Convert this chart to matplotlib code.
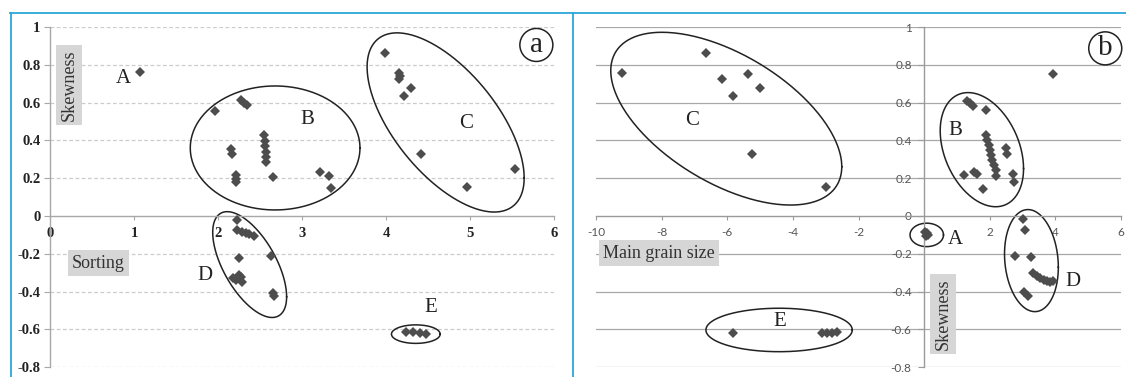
import numpy as np
import matplotlib
matplotlib.use("Agg")
import matplotlib.pyplot as plt
from matplotlib.lines import Line2D

# ---------------- data ----------------
# Panel (a): Sorting vs Skewness
a_A_x = [1.07]
a_A_y = [0.76]
a_B_x = [1.97, 2.27, 2.31, 2.35, 2.16, 2.17, 2.21, 2.21, 2.22,
         2.55, 2.555, 2.56, 2.57, 2.575, 2.57, 2.65, 3.22, 3.32, 3.35]
a_B_y = [0.557, 0.614, 0.600, 0.587, 0.354, 0.328, 0.217, 0.198, 0.178,
         0.429, 0.397, 0.370, 0.340, 0.314, 0.287, 0.208, 0.234, 0.213, 0.146]
a_C_x = [3.99, 4.16, 4.17, 4.16, 4.30, 4.22, 4.42, 5.53, 4.96]
a_C_y = [0.864, 0.758, 0.740, 0.723, 0.676, 0.635, 0.328, 0.247, 0.152]
a_D_x = [2.23, 2.23, 2.28, 2.33, 2.37, 2.43, 2.25, 2.63,
         2.18, 2.22, 2.27, 2.28, 2.25, 2.66, 2.67]
a_D_y = [-0.021, -0.074, -0.083, -0.088, -0.094, -0.106, -0.220, -0.210,
         -0.330, -0.339, -0.324, -0.348, -0.312, -0.409, -0.423]
a_E_x = [4.24, 4.32, 4.40, 4.48]
a_E_y = [-0.612, -0.615, -0.621, -0.626]

# Panel (b): Main grain size vs Skewness
b_A_x = [0.03, 0.08, 0.11, 0.05]
b_A_y = [-0.083, -0.092, -0.100, -0.108]
b_B_x = [1.32, 1.40, 1.48, 1.88, 1.88, 1.93, 1.98, 2.01, 2.04, 2.08, 2.13,
         2.19, 2.19, 2.49, 2.54, 2.70, 2.74, 1.22, 1.52, 1.61, 1.79]
b_B_y = [0.610, 0.596, 0.582, 0.561, 0.429, 0.402, 0.376, 0.349, 0.323,
         0.296, 0.270, 0.243, 0.213, 0.358, 0.328, 0.222, 0.181, 0.217,
         0.234, 0.222, 0.143]
b_C_x = [-9.22, -6.65, -6.17, -5.38, -5.81, -5.00, -5.25, -2.99]
b_C_y = [0.758, 0.864, 0.727, 0.753, 0.637, 0.676, 0.328, 0.152]
b_D_x = [3.01, 3.06, 2.77, 3.25, 3.33, 3.43, 3.54, 3.64, 3.74, 3.84, 3.94,
         3.03, 3.18]
b_D_y = [-0.018, -0.074, -0.212, -0.215, -0.300, -0.317, -0.330, -0.339,
         -0.344, -0.347, -0.344, -0.404, -0.423]
b_E_x = [-5.81, -3.12, -2.97, -2.81, -2.66]
b_E_y = [-0.617, -0.617, -0.619, -0.617, -0.614]
b_other_x = [3.94]
b_other_y = [0.751]

y_ticks = [1, 0.8, 0.6, 0.4, 0.2, 0, -0.2, -0.4, -0.6, -0.8]
y_tick_labels = ["1", "0.8", "0.6", "0.4", "0.2", "0", "-0.2", "-0.4", "-0.6", "-0.8"]
a_x_ticks = [0, 1, 2, 3, 4, 5, 6]
b_x_ticks = [-10, -8, -6, -4, -2, 2, 4, 6]

# ---------------- styling ----------------
W, H = 1126, 377
fig = plt.figure(figsize=(W / 100, H / 100), dpi=100)
fig.patch.set_facecolor("white")

SERIF = "Liberation Serif"
MK = dict(marker="D", linestyle="none", color="#4d4d4d", markersize=5.2,
          markeredgewidth=0)


def px_axes(x0, x1, y_top, y_bot):
    return fig.add_axes([x0 / W, (H - y_bot) / H, (x1 - x0) / W, (y_bot - y_top) / H])


def ellipse(ax, cx, cy, hw, dy, hh, lw=1.1):
    t = np.linspace(0, 2 * np.pi, 300)
    x = cx + hw * np.cos(t)
    y = cy + dy * np.cos(t) + np.sqrt(hh ** 2 - dy ** 2) * np.sin(t)
    ax.plot(x, y, color="#222222", lw=lw, zorder=2)


def common(ax, xlim):
    ax.set_xlim(*xlim)
    ax.set_ylim(-0.8, 1.0)
    ax.set_facecolor("none")
    for s in ("top", "right"):
        ax.spines[s].set_visible(False)
    ax.spines["left"].set_position(("data", 0))
    ax.spines["bottom"].set_position(("data", 0))
    ax.set_yticks(y_ticks)
    ax.set_yticklabels(y_tick_labels)


# ---------------- panel (a) ----------------
axa = px_axes(50, 554, 27, 367.2)
common(axa, (0, 6))
for s in ("left", "bottom"):
    axa.spines[s].set_color("#a8a8a8")
    axa.spines[s].set_linewidth(1.0)
axa.set_xticks(a_x_ticks)
axa.set_xticklabels([str(v) for v in a_x_ticks])
axa.tick_params(axis="y", length=4, width=0.8, color="#a8a8a8", pad=3,
                labelsize=10.5, labelcolor="#222222")
axa.tick_params(axis="x", length=3, width=0.8, color="#a8a8a8", pad=5,
                labelsize=10.5, labelcolor="#222222")
for lab in axa.get_xticklabels() + axa.get_yticklabels():
    lab.set_fontfamily(SERIF)
    lab.set_fontweight("bold")
for yv in y_ticks:
    if yv != 0:
        axa.axhline(yv, color="#cccccc", lw=0.9, ls=(0, (3, 2)), zorder=0)

for xs, ys in [(a_A_x, a_A_y), (a_B_x, a_B_y), (a_C_x, a_C_y),
               (a_D_x, a_D_y), (a_E_x, a_E_y)]:
    axa.plot(xs, ys, zorder=3, **MK)

ellipse(axa, 2.68, 0.36, 1.01, 0.0, 0.328)
ellipse(axa, 4.71, 0.495, 0.935, -0.293, 0.474)
ellipse(axa, 2.377, -0.257, 0.44, -0.17, 0.28)
ellipse(axa, 4.355, -0.625, 0.29, 0.0, 0.049)

LBL = dict(fontfamily=SERIF, fontsize=15, color="#222222", ha="center", va="center")
axa.text(0.87, 0.725, "A", **LBL)
axa.text(3.06, 0.51, "B", **LBL)
axa.text(4.95, 0.49, "C", **LBL)
axa.text(1.84, -0.317, "D", **LBL)
axa.text(4.53, -0.483, "E", **LBL)

BOX = dict(boxstyle="square,pad=0.25", facecolor="#d6d6d6", edgecolor="none")
axa.text(0.226, 0.693, "Skewness", rotation=90, fontfamily=SERIF, fontsize=13,
         color="#333333", ha="center", va="center", bbox=BOX)
axa.text(0.577, -0.249, "Sorting", fontfamily=SERIF, fontsize=13,
         color="#333333", ha="center", va="center", bbox=BOX)
axa.text(5.79, 0.905, "a", fontfamily=SERIF, fontsize=21, color="#222222",
         ha="center", va="center",
         bbox=dict(boxstyle="circle,pad=0.12", facecolor="none",
                   edgecolor="#222222", lw=1.1))

# ---------------- panel (b) ----------------
axb = px_axes(596, 1121, 27, 367.2)
common(axb, (-10, 6))
for s in ("left", "bottom"):
    axb.spines[s].set_color("#9a9a9a")
    axb.spines[s].set_linewidth(1.0)
axb.set_xticks(b_x_ticks)
axb.set_xticklabels([str(v) for v in b_x_ticks])
axb.tick_params(axis="y", length=4, width=0.8, color="#9a9a9a", pad=5,
                labelsize=8.5, labelcolor="#555555")
axb.tick_params(axis="x", length=3, width=0.8, color="#9a9a9a", pad=5,
                labelsize=8.5, labelcolor="#555555")
for lab in axb.get_xticklabels() + axb.get_yticklabels():
    lab.set_fontfamily("Lato")
for yv in y_ticks:
    if yv != 0:
        axb.axhline(yv, color="#a8a8a8", lw=0.9, zorder=0)

for xs, ys in [(b_A_x, b_A_y), (b_B_x, b_B_y), (b_C_x, b_C_y),
               (b_D_x, b_D_y), (b_E_x, b_E_y), (b_other_x, b_other_y)]:
    axb.plot(xs, ys, zorder=3, **MK)

ellipse(axb, -6.03, 0.515, 3.52, -0.254, 0.457)
ellipse(axb, 1.76, 0.351, 1.27, -0.10, 0.302)
ellipse(axb, 0.08, -0.10, 0.51, 0.0, 0.062)
ellipse(axb, 3.27, -0.236, 0.82, -0.035, 0.27)
ellipse(axb, -4.42, -0.603, 2.23, 0.0, 0.115)

axb.text(0.945, 0.451, "B", **LBL)
axb.text(0.945, -0.123, "A", **LBL)
axb.text(-7.08, 0.504, "C", **LBL)
axb.text(4.53, -0.347, "D", **LBL)
axb.text(-4.39, -0.559, "E", **LBL)

axb.text(-8.08, -0.196, "Main grain size", fontfamily=SERIF, fontsize=13,
         color="#333333", ha="center", va="center", bbox=BOX)
axb.text(0.57, -0.518, "Skewness", rotation=90, fontfamily=SERIF, fontsize=13,
         color="#333333", ha="center", va="center", bbox=BOX)
axb.text(5.52, 0.887, "b", fontfamily=SERIF, fontsize=21, color="#222222",
         ha="center", va="center",
         bbox=dict(boxstyle="circle,pad=0.12", facecolor="none",
                   edgecolor="#222222", lw=1.1))

# ---------------- cyan frame ----------------
CY = "#2aa8d8"
ty = (H - 12.5) / H
fig.add_artist(Line2D([10 / W, 1.0], [ty, ty], color=CY, lw=1.3))
fig.add_artist(Line2D([10.5 / W, 10.5 / W], [0, ty], color=CY, lw=1.3))
fig.add_artist(Line2D([573 / W, 573 / W], [0, ty], color=CY, lw=1.3))

fig.savefig("out.png", dpi=100, facecolor="white")
